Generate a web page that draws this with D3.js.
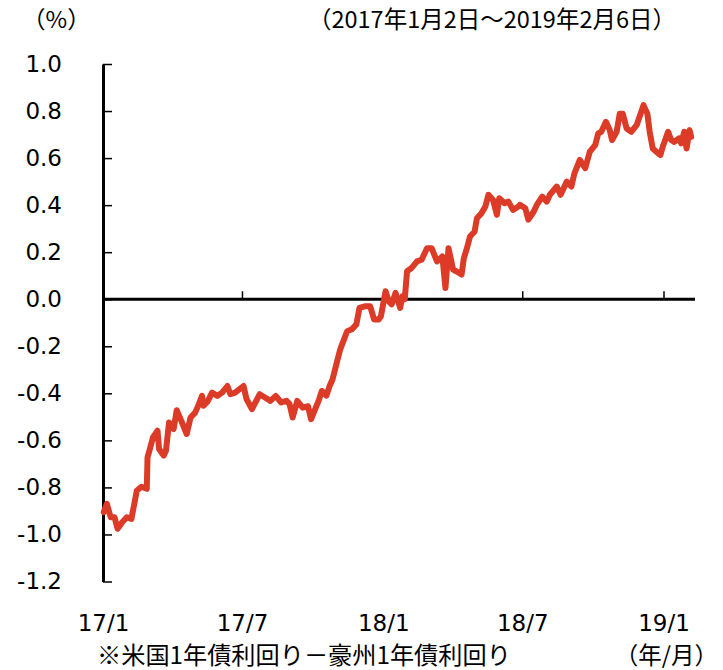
<!DOCTYPE html>
<html>
<head>
<meta charset="utf-8">
<script src="https://cdn.jsdelivr.net/npm/d3@7"></script>
<style>
  html, body { margin: 0; padding: 0; background: #fff; }
  svg { display: block; }
  .num { font-family: "DejaVu Sans", "Noto Sans CJK JP", sans-serif; font-size: 23px; fill: #000; }
  .jp { font-family: "Noto Sans CJK JP", "DejaVu Sans", sans-serif; font-size: 23.5px; fill: #000; }
</style>
</head>
<body>
<div id="plot"></div>
<script>
// daily spread (roughly every few trading days)
const dates = [
  "2017-01-02","2017-01-06","2017-01-11","2017-01-16","2017-01-20","2017-01-26","2017-02-01","2017-02-07",
  "2017-02-14","2017-02-20","2017-02-27","2017-02-28","2017-03-03","2017-03-07","2017-03-13","2017-03-15",
  "2017-03-21","2017-03-24","2017-03-28","2017-04-03","2017-04-07","2017-04-13","2017-04-20","2017-04-25",
  "2017-05-01","2017-05-05","2017-05-10","2017-05-12","2017-05-17","2017-05-23","2017-05-30","2017-06-05",
  "2017-06-12","2017-06-16","2017-06-22","2017-07-03","2017-07-07","2017-07-14","2017-07-24","2017-07-31",
  "2017-08-07","2017-08-14","2017-08-21","2017-08-28","2017-09-01","2017-09-05","2017-09-11","2017-09-18",
  "2017-09-25","2017-09-29","2017-10-09","2017-10-13","2017-10-19","2017-10-23","2017-10-27","2017-11-02",
  "2017-11-06","2017-11-10","2017-11-15","2017-11-21","2017-11-27","2017-12-01","2017-12-08","2017-12-15",
  "2017-12-20","2017-12-26","2017-12-29","2018-01-04","2018-01-08","2018-01-12","2018-01-17","2018-01-23",
  "2018-01-26","2018-01-29","2018-02-01","2018-02-07","2018-02-14","2018-02-20","2018-02-27","2018-03-05",
  "2018-03-12","2018-03-19","2018-03-23","2018-03-27","2018-04-02","2018-04-06","2018-04-13","2018-04-16",
  "2018-04-20","2018-04-24","2018-04-30","2018-05-03","2018-05-09","2018-05-14","2018-05-18","2018-05-24",
  "2018-05-29","2018-06-01","2018-06-08","2018-06-13","2018-06-19","2018-06-26","2018-06-28","2018-07-05",
  "2018-07-09","2018-07-16","2018-07-20","2018-07-27","2018-08-02","2018-08-06","2018-08-15","2018-08-20",
  "2018-08-28","2018-09-03","2018-09-07","2018-09-14","2018-09-21","2018-09-27","2018-10-04","2018-10-08",
  "2018-10-12","2018-10-18","2018-10-23","2018-10-26","2018-11-01","2018-11-05","2018-11-09","2018-11-14",
  "2018-11-20","2018-11-27","2018-11-30","2018-12-06","2018-12-11","2018-12-14","2018-12-18","2018-12-25",
  "2018-12-28","2018-12-31","2019-01-07","2019-01-11","2019-01-15","2019-01-21","2019-01-24","2019-01-28",
  "2019-01-31","2019-02-04","2019-02-06"
];
const spread = [
  -0.905,-0.87,-0.927,-0.927,-0.976,-0.948,-0.927,-0.934,
  -0.814,-0.797,-0.806,-0.672,-0.637,-0.588,-0.559,-0.637,
  -0.665,-0.644,-0.524,-0.552,-0.472,-0.517,-0.573,-0.503,
  -0.482,-0.453,-0.411,-0.453,-0.436,-0.397,-0.411,-0.397,
  -0.369,-0.404,-0.397,-0.369,-0.425,-0.467,-0.404,-0.418,
  -0.432,-0.411,-0.439,-0.432,-0.446,-0.503,-0.432,-0.461,
  -0.455,-0.51,-0.43,-0.39,-0.41,-0.37,-0.34,-0.263,
  -0.213,-0.178,-0.136,-0.128,-0.107,-0.037,-0.030,-0.030,
  -0.086,-0.086,-0.072,0.034,-0.008,-0.022,0.027,-0.037,
  0.013,0.0,0.119,0.133,0.161,0.168,0.217,0.217,
  0.161,0.182,0.048,0.217,0.126,0.119,0.105,0.175,
  0.217,0.267,0.288,0.344,0.366,0.394,0.444,0.422,
  0.359,0.429,0.408,0.415,0.380,0.394,0.401,0.387,
  0.338,0.373,0.401,0.436,0.415,0.444,0.479,0.444,
  0.500,0.479,0.535,0.592,0.557,0.627,0.655,0.705,
  0.712,0.754,0.719,0.677,0.712,0.789,0.789,0.726,
  0.712,0.740,0.768,0.825,0.789,0.712,0.641,0.620,
  0.613,0.648,0.712,0.677,0.669,0.684,0.663,0.712,
  0.641,0.719,0.690
];
const yTicks = [-1.2,-1.0,-0.8,-0.6,-0.4,-0.2,0.0,0.2,0.4,0.6,0.8,1.0];
const xTickDates = ["2017-01-01","2017-07-01","2018-01-01","2018-07-01","2019-01-01"];

const parse = d3.timeParse("%Y-%m-%d");
const data = dates.map((d, i) => ({date: parse(d), value: spread[i]}));
const xTicks = xTickDates.map(parse);

const W = 723, H = 670;
const svg = d3.select("#plot").append("svg")
  .attr("width", W)
  .attr("height", H);

const x = d3.scaleTime()
  .domain([parse("2017-01-01"), parse("2019-01-01")])
  .range([103, 663.5]);
const y = d3.scaleLinear()
  .domain([-1.2, 1.0])
  .range([581.5, 64]);

// y axis: ticks point right, labels on the left
const yAxis = svg.append("g")
  .attr("transform", "translate(103,0)")
  .call(d3.axisLeft(y).tickValues(yTicks).tickSize(-9).tickSizeOuter(0).tickPadding(41)
    .tickFormat(d => d.toFixed(1)));
yAxis.select(".domain").attr("stroke-width", 3);
yAxis.selectAll(".tick line").attr("stroke-width", 1.5);
yAxis.selectAll("text").attr("class", "num").attr("fill", "#000").attr("font-size", null).attr("font-family", null);

// zero line with upward ticks
svg.append("line")
  .attr("x1", 103).attr("x2", 695)
  .attr("y1", y(0)).attr("y2", y(0))
  .attr("stroke", "#000").attr("stroke-width", 3);
const zAxis = svg.append("g")
  .attr("transform", `translate(0,${y(0)})`)
  .call(d3.axisTop(x).tickValues(xTicks.slice(1)).tickSize(8).tickFormat(""));
zAxis.select(".domain").remove();
zAxis.selectAll(".tick line").attr("stroke-width", 1.5);

// x labels below the plot
const xAxis = svg.append("g")
  .attr("transform", "translate(0,612)")
  .call(d3.axisBottom(x).tickValues(xTicks).tickSize(0).tickFormat(d3.timeFormat("%y/%-m")));
xAxis.select(".domain").remove();
xAxis.selectAll("text").attr("class", "num").attr("fill", "#000").attr("font-size", null).attr("font-family", null);

// series
const line = d3.line()
  .x(d => x(d.date))
  .y(d => y(d.value));
svg.append("path")
  .datum(data)
  .attr("fill", "none")
  .attr("stroke", "#dc3b27")
  .attr("stroke-width", 6)
  .attr("stroke-linejoin", "round")
  .attr("stroke-linecap", "round")
  .attr("d", line);

// texts
svg.append("text").attr("class", "jp").attr("x", 22).attr("y", 28).text("（%）");
svg.append("text").attr("class", "jp").attr("x", 676).attr("y", 28).attr("text-anchor", "end")
  .text("（2017年1月2日～2019年2月6日）");
svg.append("text").attr("class", "jp").attr("x", 97).attr("y", 664).style("font-size", "24.2px")
  .text("※米国1年債利回り－豪州1年債利回り");
svg.append("text").attr("class", "jp").attr("x", 718).attr("y", 664).attr("text-anchor", "end").text("（年/月）");
</script>
</body>
</html>
